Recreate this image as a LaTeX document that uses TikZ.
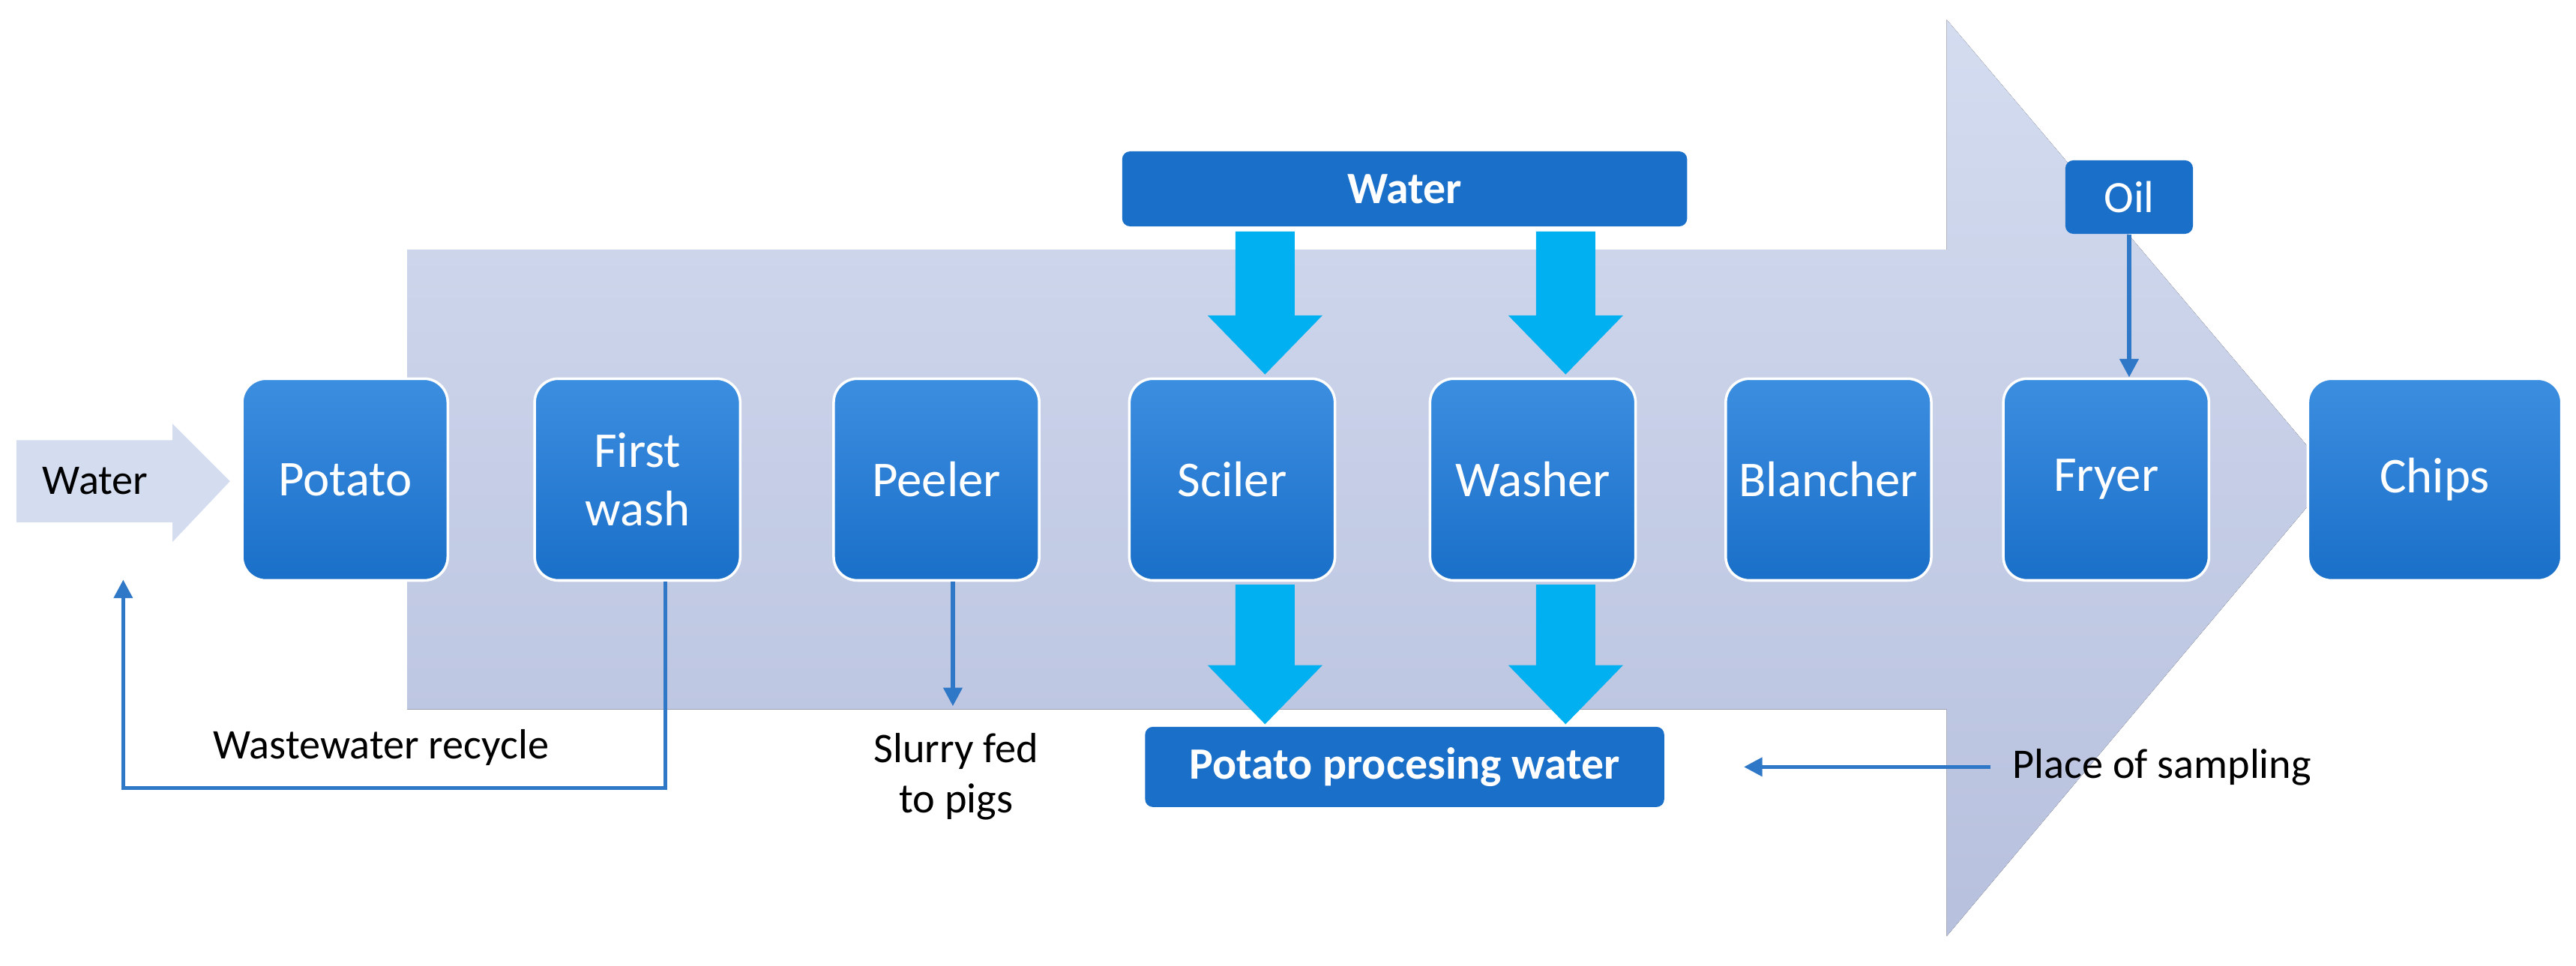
\documentclass[tikz,border=0pt]{standalone}
\usepackage{fontspec}
\setmainfont{Carlito}
\usetikzlibrary{arrows.meta}
\definecolor{boxb}{HTML}{1A6FC8}
\definecolor{boxt}{HTML}{3C8EE0}
\definecolor{cyanA}{HTML}{00B0F0}
\definecolor{lineb}{HTML}{2F78C8}
\definecolor{bgA}{HTML}{D4DCF0}
\definecolor{bgB}{HTML}{B7C0DD}
\begin{document}
\begin{tikzpicture}[x=0.0219cm,y=-0.0219cm,
 box/.style={draw=white,line width=1pt,rounded corners=9pt,top color=boxt,bottom color=boxb,text=white,font=\fontsize{19}{22}\selectfont,align=center,minimum width=2.74cm,minimum height=2.69cm},
 bar/.style={rounded corners=3pt,fill=boxb,text=white,font=\bfseries\fontsize{17}{20}\selectfont},
 lbl/.style={font=\fontsize{16}{19}\selectfont,align=center},
 thin/.style={draw=lineb,line width=1.5pt,-{Triangle[length=7pt,width=7pt]}}]
\useasboundingbox (0,0) rectangle (1568,588);
% big arrow
\fill[top color=bgA,bottom color=bgB] (248,152) -- (1185,152) -- (1185,12) -- (1420,290) -- (1185,570) -- (1185,432) -- (248,432) -- cycle;
% small water arrow
\fill[fill=bgA] (10,268) -- (105,268) -- (105,258) -- (140,293) -- (105,330) -- (105,318) -- (10,318) -- cycle;
\node[lbl] (wt) at (58,293) {Water};
% boxes
\node[box] (potato) at (210,292) {Potato};
\node[box] (first) at (388,292) {First\\wash};
\node[box] (peeler) at (570,292) {Peeler};
\node[box] (sciler) at (750,292) {Sciler};
\node[box] (washer) at (933,292) {Washer};
\node[box] (blancher) at (1113,292) {Blancher};
\node[box] (fryer) at (1282,292) {Fryer};
\node[box,minimum width=3.38cm] (chips) at (1482,292) {Chips};
% bars
\node[bar,minimum width=7.53cm,minimum height=1.0cm] (water) at (855,115) {Water};
\node[bar,font=\fontsize{17}{20}\selectfont,minimum width=1.7cm,minimum height=0.98cm] (oil) at (1296,120) {Oil};
\node[bar,minimum width=6.92cm,minimum height=1.07cm] (ppw) at (855,467) {Potato procesing water};
% thick arrows
\foreach \x in {770,953}{
 \fill[cyanA] (\x-18,141) -- (\x+18,141) -- (\x+18,192) -- (\x+35,192) -- (\x,228) -- (\x-35,192) -- (\x-18,192) -- cycle;
 \fill[cyanA] (\x-18,356) -- (\x+18,356) -- (\x+18,405) -- (\x+35,405) -- (\x,441) -- (\x-35,405) -- (\x-18,405) -- cycle;
}
% thin connectors
\draw[thin] (oil.south) -- (oil.south |- fryer.north);
\coordinate (w1) at (405,480);
\coordinate (w2) at (75,480);
\coordinate (w3) at (75,353);
\draw[thin] (first.south -| w1) -- (w1) -- (w2) -- (w3);
\node[lbl] (wr) at (232,455) {Wastewater recycle};
\coordinate (s1) at (580,430);
\draw[thin] (peeler.south -| s1) -- (s1);
\node[lbl] (sl) at (582,473) {Slurry fed\\to pigs};
\node[lbl] (ps) at (1316,467) {Place of sampling};
\draw[thin] (ps.west) ++(-8,0) -- ([xshift=30pt]ppw.east);
\end{tikzpicture}
\end{document}
